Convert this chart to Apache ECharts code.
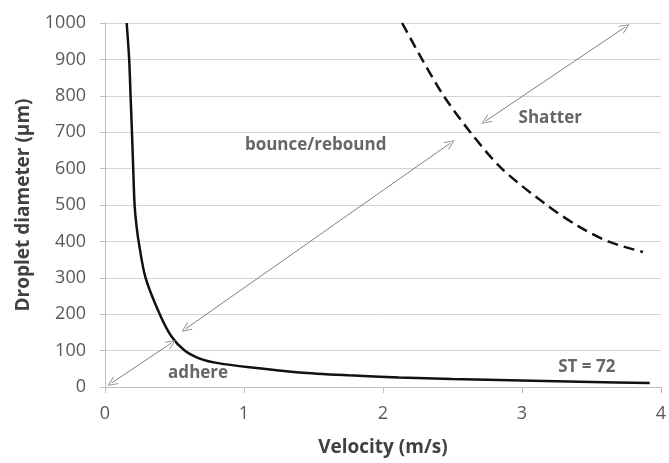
<!DOCTYPE html>
<html>
<head>
<meta charset="utf-8">
<script src="https://cdn.jsdelivr.net/npm/echarts@6/dist/echarts.min.js"></script>
<style>
  html, body { margin: 0; padding: 0; background: #fff; }
  #chart { width: 669px; height: 463px; }
</style>
</head>
<body>
<div id="chart"></div>
<script>
// ST = 72 curve (adhere / bounce boundary)
var adhereVel = [0.156, 0.174, 0.184, 0.194, 0.203, 0.213, 0.226, 0.246, 0.292, 0.394, 0.48, 0.573, 0.681, 0.794, 1.039, 1.398, 1.756, 2.115, 2.5, 3.0, 3.5, 3.92];
var adhereDia = [1000, 900, 800, 700, 600, 500, 445, 390, 300, 200, 138, 100, 78, 67, 54, 40, 32, 26, 22, 18, 14, 11];

// shatter boundary (dashed)
var shatterVel = [2.138, 2.282, 2.437, 2.629, 2.855, 3.178, 3.405, 3.62, 3.871];
var shatterDia = [1000, 900, 800, 700, 600, 500, 442, 400, 371];

// double headed arrows
var arrowFrom = [[0.048, 11], [0.581, 160], [2.74, 731]];
var arrowTo = [[0.478, 121], [2.485, 670], [3.744, 989]];

// region labels
var noteText = ['adhere', 'bounce/rebound', 'Shatter', 'ST = 72'];
var noteVel = [0.67, 1.516, 3.204, 3.467];
var noteDia = [38, 664, 738, 55];

var xTicks = [0, 1, 2, 3, 4];
var yMax = 1000;

function pairs(xs, ys) {
  var out = [];
  for (var i = 0; i < xs.length; i++) out.push([xs[i], ys[i]]);
  return out;
}

var arrowLines = [];
for (var i = 0; i < arrowFrom.length; i++) {
  arrowLines.push([{ coord: arrowFrom[i] }, { coord: arrowTo[i] }]);
}

var notes = [];
for (var j = 0; j < noteText.length; j++) {
  notes.push({ value: [noteVel[j], noteDia[j]], name: noteText[j] });
}

// open arrow head
var openHead = 'path://M5,0 L10,10 L9,10 L5,1.8 L1,10 L0,10 Z';
var font = '"Open Sans", "DejaVu Sans", sans-serif';

var option = {
  backgroundColor: '#fff',
  animation: false,
  textStyle: { fontFamily: font },
  grid: { left: 105, right: 5, top: 23, bottom: 76, containLabel: false },
  xAxis: {
    type: 'value',
    min: xTicks[0],
    max: xTicks[xTicks.length - 1],
    interval: 1,
    name: 'Velocity (m/s)',
    nameLocation: 'middle',
    nameGap: 51,
    nameTextStyle: { fontFamily: font, fontSize: 19, fontWeight: 'bold', color: '#404040' },
    axisLine: { show: true, lineStyle: { color: '#bfbfbf', width: 1 } },
    axisTick: { show: true, length: 6, lineStyle: { color: '#bfbfbf' } },
    axisLabel: { margin: 18, fontFamily: font, fontSize: 18, color: '#595959' },
    splitLine: { show: false }
  },
  yAxis: {
    type: 'value',
    min: 0,
    max: yMax,
    interval: 100,
    name: 'Droplet diameter (\u00b5m)',
    nameLocation: 'middle',
    nameGap: 72,
    nameTextStyle: { fontFamily: font, fontSize: 19, fontWeight: 'bold', color: '#404040' },
    axisLine: { show: true, lineStyle: { color: '#bfbfbf', width: 1 } },
    axisTick: { show: true, length: 5, lineStyle: { color: '#bfbfbf' } },
    axisLabel: {
      margin: 19, fontFamily: font, fontSize: 18, color: '#595959',
      formatter: function (v) { return String(v); }
    },
    splitLine: { show: true, lineStyle: { color: '#d4d4d4', width: 1 } }
  },
  series: [
    {
      name: 'ST = 72',
      type: 'line',
      data: pairs(adhereVel, adhereDia),
      showSymbol: false,
      smooth: 0.3,
      lineStyle: { color: '#111', width: 2.5 },
      markLine: {
        silent: true,
        symbol: [openHead, openHead],
        symbolSize: [9, 10],
        label: { show: false },
        lineStyle: { color: '#808080', width: 1, type: 'solid' },
        data: arrowLines
      }
    },
    {
      name: 'shatter',
      type: 'line',
      data: pairs(shatterVel, shatterDia),
      showSymbol: false,
      smooth: 0.3,
      lineStyle: { color: '#111', width: 2.5, type: [11, 6] }
    },
    {
      name: 'notes',
      type: 'scatter',
      data: notes,
      symbolSize: 1,
      itemStyle: { color: 'rgba(0,0,0,0)' },
      label: {
        show: true,
        position: 'inside',
        formatter: '{b}',
        fontFamily: font,
        fontSize: 17,
        fontWeight: 'bold',
        color: '#404040'
      }
    }
  ]
};

var chart = echarts.init(document.getElementById('chart'));
chart.setOption(option);
</script>
</body>
</html>
